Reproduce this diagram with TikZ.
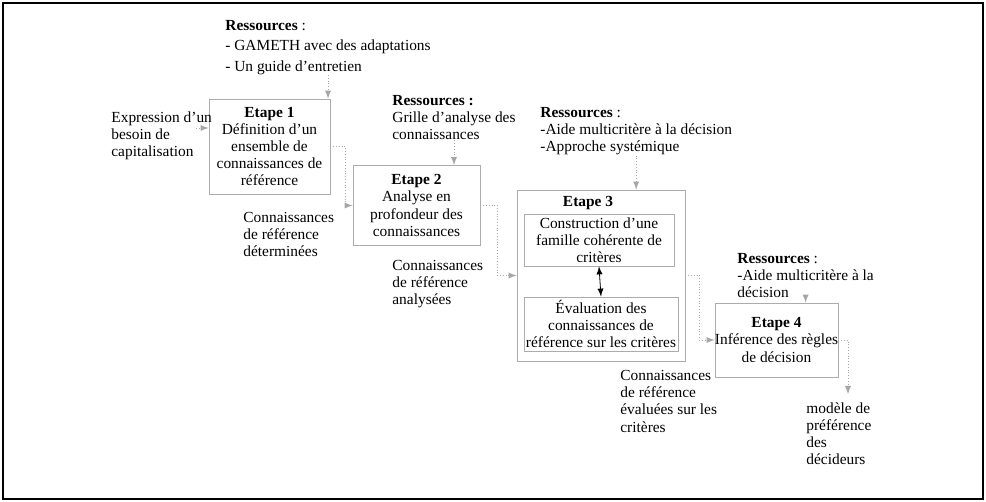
\documentclass[tikz,border=0pt]{standalone}
\usepackage{fontspec}
\setmainfont{Liberation Serif}
\usepackage{tikz}
\usetikzlibrary{calc}
\usetikzlibrary{arrows}
\usetikzlibrary{arrows.meta}
\usetikzlibrary{positioning}
\tikzset{>=latex}
\tikzstyle{etape} = [rectangle, draw=gray!65, line width=.4pt, inner sep=0pt, align=center]
\tikzstyle{texte} = [inner sep=0pt, anchor=north west, align=left]
\tikzstyle{lien} = [-latex, densely dotted, draw=gray!70]

\begin{document}
\begin{tikzpicture}[x=.5pt, y=-.5pt, font=\fontsize{7.7}{8.6}\selectfont]
 \useasboundingbox (0, 0) rectangle (986, 502);
 \draw [line width=.6pt] (3, 3) rectangle (983, 499);
 % ressources
 \node [texte] (R1) at (225, 20) {\textbf{Ressources} :\\[1.6pt]- GAMETH avec des adaptations\\[1.6pt]- Un guide d’entretien};
 \node [texte] (R2) at (392, 95) {\textbf{Ressources :}\\Grille d’analyse des\\connaissances};
 \node [texte] (R3) at (540, 107) {\textbf{Ressources} :\\-Aide multicritère à la décision\\-Approche systémique};
 \node [texte] (R4) at (737, 253) {\textbf{Ressources} :\\-Aide multicritère à la\\décision};
 % etapes
 \node [etape, minimum width=60.5pt, minimum height=47.5pt] (E1) at (269.5, 146.5) {\textbf{Etape 1}\\Définition d’un\\ensemble de\\connaissances de\\référence};
 \node [etape, minimum width=63.5pt, minimum height=40pt] (E2) at (416.5, 205.5) {\textbf{Etape 2}\\Analyse en\\profondeur des\\connaissances};
 \node [etape, minimum width=84pt, minimum height=85.5pt] (E3) at (601, 275.5) {};
 \node [inner sep=0pt] (T3) at (588, 203) {\textbf{Etape 3}};
 \node [etape, minimum width=75pt, minimum height=26pt] (C3a) at (599, 240) {Construction d’une\\famille cohérente de\\critères};
 \node [etape, minimum width=77pt, minimum height=27pt] (C3b) at (601, 324) {Évaluation des\\connaissances de\\référence sur les critères};
 \node [etape, minimum width=61.5pt, minimum height=37pt] (E4) at (776.5, 340) {\textbf{Etape 4}\\Inférence des règles\\de décision};
 % entrees et sorties
 \node [texte] (B) at (111, 111) {Expression d’un\\besoin de\\capitalisation};
 \node [texte] (S1) at (243, 212) {Connaissances\\de référence\\déterminées};
 \node [texte] (S2) at (392, 260) {Connaissances\\de référence\\analysées};
 \node [texte] (S3) at (620, 370) {Connaissances\\de référence\\évaluées sur les\\critères};
 \node [texte] (S4) at (806, 402) {modèle de\\préférence\\des\\décideurs};
 \coordinate (B1) at (196, 128);
 \coordinate (P4) at (848, 394);
 % liens
 \draw [lien] (R1.south) -- (R1.south |- E1.north);
 \draw [lien] (R2.south) -- (R2.south |- E2.north);
 \draw [lien] (R3.south) -- (R3.south |- E3.north);
 \draw [lien] (R4.south) -- (R4.south |- E4.north);
 \draw [lien] (B1) -- (B1 -| E1.west);
 \draw [lien] (E1.east) -- ++(15, 0) |- (E2.west);
 \draw [lien] (E2.east) -- ++(17, 0) |- (E3.west);
 \draw [lien] (E3.east) -- ++(14, 0) |- (E4.west);
 \draw [lien] (E4.east) -| (P4);
 \draw [latex-latex, draw = black, line width=.4pt] (C3a.south) -- (C3b.north);
\end{tikzpicture}
\end{document}
